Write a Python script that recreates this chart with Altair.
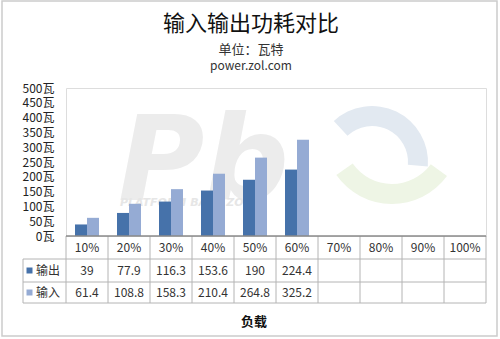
import altair as alt
import pandas as pd

# Load levels, series and measured power (watts)
categories = ["10%", "20%", "30%", "40%", "50%", "60%", "70%", "80%", "90%", "100%"]
series_names = ["输出", "输入"]
output_watts = [39, 77.9, 116.3, 153.6, 190, 224.4]
input_watts = [61.4, 108.8, 158.3, 210.4, 264.8, 325.2]
y_ticks = [0, 50, 100, 150, 200, 250, 300, 350, 400, 450, 500]
series_colors = ["#4672aa", "#95abd4"]
title_text = "输入输出功耗对比"
subtitle_lines = ["单位：瓦特", "power.zol.com"]
x_title = "负载"

FONT = "Noto Sans CJK SC"
W, H = 420, 148

rows = []
for name, values in zip(series_names, [output_watts, input_watts]):
    for cat, v in zip(categories, values):
        rows.append({"load": cat, "series": name, "watts": v, "label": f"{v:g}"})
bars_df = pd.DataFrame(rows)
cats_df = pd.DataFrame({"load": categories})
one = pd.DataFrame({"k": [0]})

x_scale = alt.Scale(domain=categories, paddingInner=0, paddingOuter=0)
color_scale = alt.Scale(domain=series_names, range=series_colors)


def label(text, x, y, size, weight="normal", color="#333333", align="center"):
    return alt.Chart(one).mark_text(
        text=text, font=FONT, fontSize=size, fontWeight=weight, color=color,
        align=align, baseline="middle",
    ).encode(x=alt.value(x), y=alt.value(y))


# faint outer frame
frame = alt.Chart(one).mark_rect(fill="transparent", stroke="#cccccc", strokeWidth=1.5).encode(
    x=alt.value(-64), x2=alt.value(431), y=alt.value(-87), y2=alt.value(248)
)

# headings
headings = [
    label(title_text, 185, -64, 22, color="#111111"),
    label(subtitle_lines[0], 185, -38.5, 13),
    label(subtitle_lines[1], 185, -22.5, 12),
    label(x_title, 188, 234, 13, weight="bold", color="#111111"),
]

# background watermark
wm_letters = alt.Chart(one).mark_text(
    text="Pb", font="DejaVu Sans", fontWeight="bold", fontStyle="italic",
    fontSize=118, color="#ececec", align="left", baseline="alphabetic"
).encode(x=alt.value(52), y=alt.value(112))
wm_caption = alt.Chart(one).mark_text(
    text="PLATFORM BASE ZONE", font="DejaVu Sans", fontWeight="bold", fontStyle="italic",
    fontSize=11, color="#e6e6e6", align="left", baseline="middle"
).encode(x=alt.value(54), y=alt.value(115))
wm_blue = alt.Chart(one).mark_arc(color="#e2e9f1").encode(
    x=alt.value(306), y=alt.value(74), theta=alt.value(-0.75), theta2=alt.value(1.65),
    radius=alt.value(36), radius2=alt.value(56)
)
wm_green = alt.Chart(one).mark_arc(color="#eef5e5").encode(
    x=alt.value(326), y=alt.value(48), theta=alt.value(2.2), theta2=alt.value(4.1),
    radius=alt.value(48), radius2=alt.value(68)
)

bars = alt.Chart(bars_df).mark_bar().encode(
    x=alt.X("load:N", scale=x_scale, sort=categories, axis=None),
    xOffset=alt.XOffset("series:N", sort=series_names,
                        scale=alt.Scale(domain=series_names, paddingInner=0, paddingOuter=0.75)),
    y=alt.Y("watts:Q", scale=alt.Scale(domain=[0, 500], nice=False),
            axis=alt.Axis(values=y_ticks, labelExpr="datum.value + '瓦'", grid=False,
                          domain=False, ticks=False, labelPadding=12, title=None,
                          labelFont=FONT, labelFontSize=12, labelColor="#222222")),
    color=alt.Color("series:N", scale=color_scale, legend=None),
)

# data table under the plot
ROW_CAT, ROW_OUT, ROW_IN = 159.5, 182.5, 204.5
TABLE_TOP, TABLE_MID, TABLE_BOTTOM = 171, 194, 215
LEFT_EDGE = -43
line_color = "#b4b4b4"

cat_text = alt.Chart(cats_df).mark_text(font=FONT, fontSize=12, color="#333333", baseline="middle").encode(
    x=alt.X("load:N", scale=x_scale, sort=categories, axis=None),
    y=alt.value(ROW_CAT), text="load:N",
)

table_layers = []
for name, row_y in zip(series_names, [ROW_OUT, ROW_IN]):
    sub = bars_df[bars_df["series"] == name]
    table_layers.append(
        alt.Chart(sub).mark_text(font=FONT, fontSize=12, color="#333333", baseline="middle").encode(
            x=alt.X("load:N", scale=x_scale, sort=categories, axis=None),
            y=alt.value(row_y), text="label:N",
        )
    )
    key = pd.DataFrame({"series": [name]})
    table_layers.append(
        alt.Chart(key).mark_point(shape="square", filled=True, size=36, opacity=1).encode(
            x=alt.value(-36.5), y=alt.value(row_y),
            color=alt.Color("series:N", scale=color_scale, legend=None),
        )
    )
    table_layers.append(
        alt.Chart(key).mark_text(font=FONT, fontSize=12, color="#333333", align="left", baseline="middle").encode(
            x=alt.value(-30), y=alt.value(row_y), text="series:N",
        )
    )

col_lines = alt.Chart(cats_df).mark_rule(color=line_color, strokeWidth=1).encode(
    x=alt.X("load:N", scale=x_scale, sort=categories, bandPosition=0, axis=None),
    y=alt.value(H), y2=alt.value(TABLE_BOTTOM),
)
right_line = alt.Chart(one).mark_rule(color=line_color, strokeWidth=1).encode(
    x=alt.value(W), y=alt.value(H), y2=alt.value(TABLE_BOTTOM)
)
left_line = alt.Chart(one).mark_rule(color=line_color, strokeWidth=1).encode(
    x=alt.value(LEFT_EDGE), y=alt.value(TABLE_TOP), y2=alt.value(TABLE_BOTTOM)
)
row_lines = [
    alt.Chart(one).mark_rule(color=line_color, strokeWidth=1).encode(
        x=alt.value(LEFT_EDGE), x2=alt.value(W), y=alt.value(yv)
    )
    for yv in [TABLE_TOP, TABLE_MID, TABLE_BOTTOM]
]
# horizontal axis line along the plot bottom
base_line = alt.Chart(one).mark_rule(color="#8a8a8a", strokeWidth=1.5).encode(
    x=alt.value(0), x2=alt.value(W), y=alt.value(H)
)

chart = alt.layer(
    frame, wm_blue, wm_green, wm_letters, wm_caption, bars, cat_text,
    col_lines, right_line, left_line, *row_lines, base_line, *table_layers, *headings,
).properties(
    width=W, height=H,
    autosize=alt.AutoSizeParams(type="none"),
    padding={"left": 66, "top": 88, "right": 14, "bottom": 103},
).configure_view(
    stroke="#a8a8a8", strokeWidth=1.5
).configure(background="white")

chart.save("out.html", embed_options={"renderer": "svg", "actions": False})
